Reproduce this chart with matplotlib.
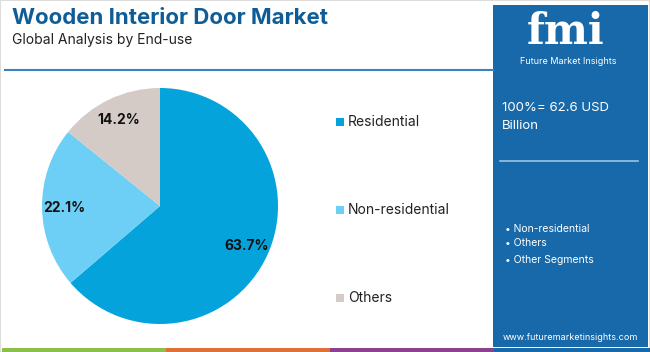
import matplotlib
matplotlib.use("Agg")
import matplotlib.pyplot as plt
from matplotlib.patches import Rectangle
from matplotlib.lines import Line2D

categories = ["Residential", "Non-residential", "Others"]
shares = [63.7, 22.1, 14.2]
colors = ["#04a3dc", "#6dcff5", "#d5cbc6"]
panel_bullets = ["Non-residential", "Others", "Other Segments"]
total_text = "100%= 62.6 USD\nBillion"

W, H = 650, 352
fig = plt.figure(figsize=(W / 100, H / 100), dpi=100)
plt.rcParams['font.family'] = ['Inter', 'DejaVu Sans']

def fx(x):
    return x / W

def fy(y):
    return 1 - y / H

# Border
fig.patches.append(Rectangle((0, 0), 1, 1, transform=fig.transFigure,
                             facecolor="none", edgecolor="#dddddd", lw=1.5, zorder=0))

# Title
fig.text(fx(12), fy(18), "Wooden Interior Door Market", fontsize=16, fontweight="bold",
         color="#0e5d97", va="center", ha="left")
fig.text(fx(12), fy(40), "Global Analysis by End-use", fontsize=10, color="#222222",
         va="center", ha="left")
fig.add_artist(Line2D([fx(5), fx(493)], [fy(70), fy(70)], transform=fig.transFigure,
                      color="#3a83bf", lw=1.5))

# Bottom stripes
stripe_cols = ["#8cc04b", "#e0703a", "#8e3f8e", "#1769aa"]
for i, c in enumerate(stripe_cols):
    fig.patches.append(Rectangle((fx(2 + i * 164), 0), fx(164), 4 / H, transform=fig.transFigure,
                                 facecolor=c, edgecolor="none", zorder=1))

# Right panel
fig.patches.append(Rectangle((fx(493), fy(347)), fx(155), (347 - 5) / H, transform=fig.transFigure,
                             facecolor="#1769aa", edgecolor="none", zorder=1))
fig.text(fx(566), fy(32), "fmi", fontsize=30, fontweight="bold", color="white",
         ha="center", va="center", family=["DejaVu Serif"])
fig.text(fx(568), fy(61), "Future Market Insights", fontsize=6.5, color="white",
         ha="center", va="center")
fig.text(fx(502), fy(117), total_text, fontsize=9.5, color="white", ha="left", va="center",
         linespacing=1.7)
fig.add_artist(Line2D([fx(500), fx(638)], [fy(161), fy(161)], transform=fig.transFigure,
                      color="#9cc3e3", lw=1.2))
for y, t in zip([229, 243, 260], panel_bullets):
    fig.text(fx(505), fy(y), "\u2022 " + t, fontsize=7.5, color="white", ha="left", va="center")
fig.text(fx(570), fy(337), "www.futuremarketinsights.com", fontsize=6.5, color="white",
         ha="center", va="center")

# Pie
cx, cy, r = 160, 206, 118
ax = fig.add_axes([fx(cx - r), fy(cy + r), 2 * r / W, 2 * r / H])
wedges, texts, autotexts = ax.pie(shares, colors=colors, startangle=90, counterclock=False,
                                  autopct="%1.1f%%", pctdistance=0.81,
                                  wedgeprops=dict(linewidth=0))
for t in autotexts:
    t.set_fontsize(10)
    t.set_fontweight("bold")
    t.set_color("#111111")
ax.set_xlim(-1, 1)
ax.set_ylim(-1, 1)
ax.set_aspect("equal")
ax.axis("off")

# Legend
for y, c, lab in zip([122, 210, 298], colors, categories):
    fig.patches.append(Rectangle((fx(336), fy(y + 4)), fx(8), 8 / H, transform=fig.transFigure,
                                 facecolor=c, edgecolor="none"))
    fig.text(fx(348), fy(y), lab, fontsize=10, color="#222222", ha="left", va="center")

fig.savefig("out.png", dpi=100)
